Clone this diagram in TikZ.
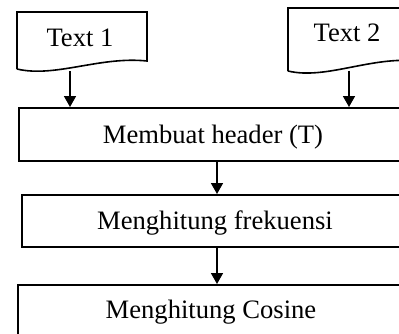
\documentclass[tikz,border=0pt]{standalone}
\usepackage{fontspec}
\setmainfont{Liberation Serif}
\usetikzlibrary{arrows.meta}
\tikzset{
  line/.style={line width=1.6pt, draw=black},
  flow/.style={line, -{Triangle[width=12pt,length=11pt]}},
  stepbox/.style={line, rectangle, inner sep=0pt, font=\fontsize{26.6}{30}\selectfont},
  lbl/.style={inner sep=0pt, font=\fontsize{26.6}{30}\selectfont},
}
\begin{document}
\begin{tikzpicture}[x=1pt,y=-1pt]
\useasboundingbox (0,0) rectangle (399,333);
\clip (0,0) rectangle (399,333);
% document shapes
\draw[line] (17,69) -- (17,12) -- (147,12) -- (147,61)
  .. controls (100,56) and (55,78) .. (17,69);
\node[lbl] (t1) at (80,38) {Text 1};
\coordinate (t1b) at (70,71.3);
\draw[line] (288,71) -- (288,8) -- (418,8) -- (418,61)
  .. controls (371,56) and (326,80) .. (288,71);
\node[lbl] (t2) at (347,33) {Text 2};
\coordinate (t2b) at (349,70.5);
% process boxes
\node[stepbox, minimum width=390pt, minimum height=53pt, anchor=north west] (b1) at (18,107) {};
\node[lbl] (l1) at (213,137) {Membuat header (T)};
\node[stepbox, minimum width=390pt, minimum height=52pt, anchor=north west] (b2) at (21,194) {};
\node[lbl] (l2) at (215,223) {Menghitung frekuensi};
\node[stepbox, minimum width=392pt, minimum height=53pt, anchor=north west] (b3) at (17,284) {};
\node[lbl] (l3) at (211,312.5) {Menghitung Cosine};
\coordinate (ax) at (217,0);
% connectors
\draw[flow] (t1b) -- (t1b |- b1.north);
\draw[flow] (t2b) -- (t2b |- b1.north);
\draw[flow] (b1.south -| ax) -- (b2.north -| ax);
\draw[flow] (b2.south -| ax) -- (b3.north -| ax);
\end{tikzpicture}
\end{document}
